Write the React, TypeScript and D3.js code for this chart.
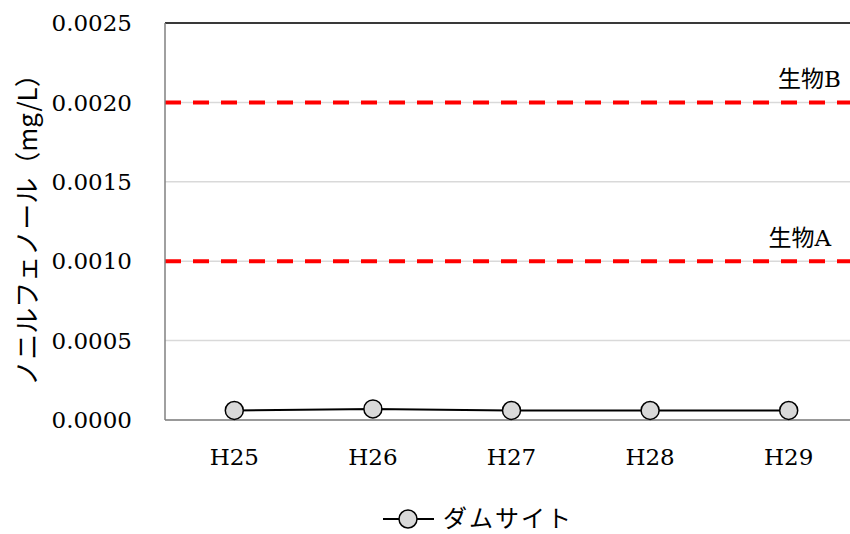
import React from "react";
import * as d3 from "d3";

const categories = ["H25", "H26", "H27", "H28", "H29"];
const damSite = [0.00006, 0.00007, 0.00006, 0.00006, 0.00006];
const yTicks = [0, 0.0005, 0.001, 0.0015, 0.002, 0.0025];
const refLines = [
  { label: "生物B", value: 0.002 },
  { label: "生物A", value: 0.001 },
];
const seriesName = "ダムサイト";
const yTitle = "ノニルフェノール（mg/L）";

export default function App() {
  const W = 850, H = 534;
  const left = 165, right = 858, top = 23, bottom = 420;
  const x = d3.scaleBand().domain(categories).range([left, right]);
  const y = d3.scaleLinear().domain([0, 0.0025]).range([bottom, top]);
  const cx = (c: string) => (x(c) as number) + x.bandwidth() / 2;
  const line = d3
    .line<number>()
    .x((_, i) => cx(categories[i]))
    .y((d) => y(d));
  const serif = "'DejaVu Serif', serif";
  const cjk = "'Noto Sans CJK JP', sans-serif";
  return (
    <svg width={W} height={H} style={{ position: "absolute", left: 0, top: 0, background: "#fff" }}>
      {yTicks.map((t) => (
        <line key={t} x1={left} x2={W} y1={y(t)} y2={y(t)} stroke="#d9d9d9" strokeWidth={1.5} />
      ))}
      <line x1={left} x2={W} y1={top} y2={top} stroke="#000" strokeWidth={1.5} />
      {refLines.map((r, i) => (
        <g key={r.label}>
          <line x1={left} x2={W} y1={y(r.value)} y2={y(r.value)} stroke="#ff0000" strokeWidth={4} strokeDasharray="16 12" />
          <text x={i === 0 ? 841 : 831} y={y(r.value) - 15} textAnchor="end" fontFamily={cjk} fontSize={23} fill="#000">
            {r.label.slice(0, 2)}
            <tspan fontFamily={serif} fontSize={23}>{r.label.slice(2)}</tspan>
          </text>
        </g>
      ))}
      <line x1={left} x2={left} y1={top} y2={bottom} stroke="#808080" strokeWidth={1.5} />
      <line x1={left} x2={W} y1={bottom} y2={bottom} stroke="#808080" strokeWidth={1.5} />
      {yTicks.map((t) => (
        <text key={t} x={132} y={y(t)} dy="0.36em" textAnchor="end" fontFamily={serif} fontSize={23} fill="#000">
          {d3.format(".4f")(t)}
        </text>
      ))}
      {categories.map((c) => (
        <text key={c} x={cx(c)} y={465} textAnchor="middle" fontFamily={serif} fontSize={23} fill="#000">
          {c}
        </text>
      ))}
      <text transform={`translate(37,${(top + bottom) / 2 + 2}) rotate(-90)`} textAnchor="middle" fontFamily={cjk} fontSize={26} fill="#000">
        {yTitle}
      </text>
      <path d={line(damSite) || ""} fill="none" stroke="#000" strokeWidth={2} />
      {damSite.map((v, i) => (
        <circle key={i} cx={cx(categories[i])} cy={y(v)} r={9} fill="#d9d9d9" stroke="#000" strokeWidth={1.5} />
      ))}
      <line x1={383} x2={434} y1={519} y2={519} stroke="#000" strokeWidth={2} />
      <circle cx={408} cy={519} r={9} fill="#d9d9d9" stroke="#000" strokeWidth={1.5} />
      <text x={443} y={518} dy="0.36em" fontFamily={cjk} fontSize={24} letterSpacing={2} fill="#000">
        {seriesName}
      </text>
    </svg>
  );
}
